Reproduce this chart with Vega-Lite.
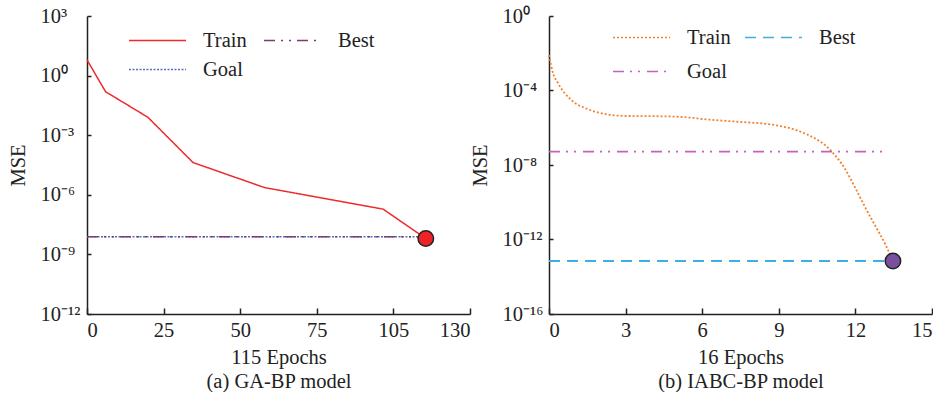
{
  "$schema": "https://vega.github.io/schema/vega-lite/v6.json",
  "padding": {"left": 8, "top": 6, "right": 0, "bottom": 0},
  "background": "white",
  "bounds": "flush",
  "spacing": 79,
  "datasets": {
    "ga": [
      {"series": "Train", "epoch": 0, "mse": 6.2},
      {"series": "Train", "epoch": 6.3, "mse": 0.155},
      {"series": "Train", "epoch": 20.7, "mse": 0.0079},
      {"series": "Train", "epoch": 36, "mse": 4.2e-5},
      {"series": "Train", "epoch": 60.3, "mse": 2.3e-6},
      {"series": "Train", "epoch": 100.5, "mse": 1.9e-7},
      {"series": "Train", "epoch": 115, "mse": 6.3e-9},
      {"series": "Goal", "epoch": 0, "mse": 7.8e-9},
      {"series": "Goal", "epoch": 115, "mse": 7.8e-9},
      {"series": "Best", "epoch": 0, "mse": 7.8e-9},
      {"series": "Best", "epoch": 115, "mse": 7.8e-9}
    ],
    "gaEnd": [{"epoch": 115, "mse": 6.3e-9}],
    "iabc": [
      {"series": "Train", "epoch": 0, "mse": 8.1e-3},
      {"series": "Train", "epoch": 0.16, "mse": 8.3e-4},
      {"series": "Train", "epoch": 0.35, "mse": 2.5e-4},
      {"series": "Train", "epoch": 0.87, "mse": 3.1e-5},
      {"series": "Train", "epoch": 1.53, "mse": 9.8e-6},
      {"series": "Train", "epoch": 2.18, "mse": 5.5e-6},
      {"series": "Train", "epoch": 2.96, "mse": 4.3e-6},
      {"series": "Train", "epoch": 4.0, "mse": 4.2e-6},
      {"series": "Train", "epoch": 5.05, "mse": 3.9e-6},
      {"series": "Train", "epoch": 6.3, "mse": 2.7e-6},
      {"series": "Train", "epoch": 7.4, "mse": 2.1e-6},
      {"series": "Train", "epoch": 8.84, "mse": 1.4e-6},
      {"series": "Train", "epoch": 9.75, "mse": 6.9e-7},
      {"series": "Train", "epoch": 10.41, "mse": 2.7e-7},
      {"series": "Train", "epoch": 10.8, "mse": 1.2e-7},
      {"series": "Train", "epoch": 11.19, "mse": 3.5e-8},
      {"series": "Train", "epoch": 11.58, "mse": 6.6e-9},
      {"series": "Train", "epoch": 11.97, "mse": 6.9e-10},
      {"series": "Train", "epoch": 12.37, "mse": 5.8e-11},
      {"series": "Train", "epoch": 12.76, "mse": 6.0e-12},
      {"series": "Train", "epoch": 13.15, "mse": 6.3e-13},
      {"series": "Train", "epoch": 13.47, "mse": 7.2e-14},
      {"series": "Goal", "epoch": 0, "mse": 5.2e-8},
      {"series": "Goal", "epoch": 13.2, "mse": 5.2e-8},
      {"series": "Best", "epoch": 0, "mse": 7.0e-14},
      {"series": "Best", "epoch": 13.47, "mse": 7.0e-14}
    ],
    "iabcEnd": [{"epoch": 13.47, "mse": 7.0e-14}]
  },
  "hconcat": [
    {
      "width": 383,
      "height": 298,
      "layer": [
        {
          "data": {"name": "ga"},
          "mark": {"type": "line", "strokeWidth": 1.5},
          "encoding": {
            "x": {
              "field": "epoch", "type": "quantitative",
              "scale": {"domain": [0, 130], "nice": false, "zero": false},
              "axis": {
                "values": [0, 26, 52, 78, 104, 130],
                "labelExpr": "datum.value == 26 ? '25' : datum.value == 52 ? '50' : datum.value == 78 ? '75' : datum.value == 104 ? '105' : datum.value == 130 ? '130' : '0'",
                "title": ["115 Epochs", "(a) GA-BP model"]
              }
            },
            "y": {
              "field": "mse", "type": "quantitative",
              "scale": {"type": "log", "domain": [1e-12, 1000], "nice": false},
              "axis": {
                "values": [1000, 1, 0.001, 1e-6, 1e-9, 1e-12],
                "labelExpr": "round(log(datum.value)/LN10) == 3 ? '10³' : round(log(datum.value)/LN10) == 0 ? '10⁰' : round(log(datum.value)/LN10) == -3 ? '10⁻³' : round(log(datum.value)/LN10) == -6 ? '10⁻⁶' : round(log(datum.value)/LN10) == -9 ? '10⁻⁹' : '10⁻¹²'",
                "title": "MSE"
              }
            },
            "color": {
              "field": "series", "type": "nominal",
              "scale": {"domain": ["Train", "Goal", "Best"], "range": ["#ee2b2b", "#5b6dc0", "#7d3c6b"]},
              "legend": {"orient": "none", "legendX": 60, "legendY": 14, "columns": 2}
            },
            "strokeDash": {
              "field": "series", "type": "nominal",
              "scale": {"domain": ["Train", "Goal", "Best"], "range": [[1, 0], [2, 1.5], [11, 6, 2, 6, 2, 6]]},
              "legend": {"orient": "none", "legendX": 60, "legendY": 14, "columns": 2}
            }
          }
        },
        {
          "data": {"name": "gaEnd"},
          "mark": {"type": "point", "filled": true, "fill": "#ee2326", "stroke": "#222222", "strokeWidth": 1.5, "size": 240, "opacity": 1},
          "encoding": {
            "x": {"field": "epoch", "type": "quantitative"},
            "y": {"field": "mse", "type": "quantitative"}
          }
        }
      ]
    },
    {
      "width": 383,
      "height": 298,
      "layer": [
        {
          "data": {"name": "iabc"},
          "mark": {"type": "line", "strokeWidth": 1.8, "interpolate": "monotone"},
          "encoding": {
            "x": {
              "field": "epoch", "type": "quantitative",
              "scale": {"domain": [0, 15], "nice": false, "zero": false},
              "axis": {
                "values": [0, 3, 6, 9, 12, 15],
                "title": ["16 Epochs", "(b) IABC-BP model"]
              }
            },
            "y": {
              "field": "mse", "type": "quantitative",
              "scale": {"type": "log", "domain": [1e-16, 1], "nice": false},
              "axis": {
                "values": [1, 1e-4, 1e-8, 1e-12, 1e-16],
                "labelExpr": "round(log(datum.value)/LN10) == 0 ? '10⁰' : round(log(datum.value)/LN10) == -4 ? '10⁻⁴' : round(log(datum.value)/LN10) == -8 ? '10⁻⁸' : round(log(datum.value)/LN10) == -12 ? '10⁻¹²' : '10⁻¹⁶'",
                "title": "MSE"
              }
            },
            "color": {
              "field": "series", "type": "nominal",
              "scale": {"domain": ["Train", "Goal", "Best"], "range": ["#f0822e", "#c660b8", "#3faee2"]},
              "legend": {"orient": "none", "legendX": 82, "legendY": 11, "columns": 2, "columnPadding": 11}
            },
            "strokeDash": {
              "field": "series", "type": "nominal",
              "scale": {"domain": ["Train", "Goal", "Best"], "range": [[2, 2], [11, 6, 2, 6, 2, 7], [11, 7]]},
              "legend": {"orient": "none", "legendX": 82, "legendY": 11, "columns": 2, "rowPadding": 13, "columnPadding": 11}
            }
          }
        },
        {
          "data": {"name": "iabcEnd"},
          "mark": {"type": "point", "filled": true, "fill": "#7a4f9e", "stroke": "#222222", "strokeWidth": 1.5, "size": 240, "opacity": 1},
          "encoding": {
            "x": {"field": "epoch", "type": "quantitative"},
            "y": {"field": "mse", "type": "quantitative"}
          }
        }
      ]
    }
  ],
  "resolve": {
    "scale": {"x": "independent", "y": "independent", "color": "independent", "strokeDash": "independent"},
    "axis": {"x": "independent", "y": "independent"},
    "legend": {"color": "independent", "strokeDash": "independent"}
  },
  "config": {
    "view": {"stroke": null},
    "font": "Liberation Serif",
    "axis": {
      "grid": false,
      "domainColor": "#222222",
      "domainWidth": 1.5,
      "tickColor": "#222222",
      "tickWidth": 1.5,
      "labelFont": "Liberation Serif",
      "labelFontSize": 20.5,
      "labelColor": "#222222",
      "titleFont": "Liberation Serif",
      "titleFontSize": 20.5,
      "titleFontWeight": "normal",
      "titleColor": "#222222"
    },
    "axisY": {"tickSize": -4, "labelPadding": 51, "labelAlign": "left", "titlePadding": 12},
    "axisX": {"tickSize": -6, "labelPadding": 12, "titlePadding": 7, "titleLineHeight": 24},
    "legend": {
      "title": null,
      "symbolType": "M-3,0H3",
      "symbolSize": 361,
      "symbolStrokeWidth": 1.5,
      "labelFont": "Liberation Serif",
      "labelFontSize": 20.5,
      "labelColor": "#222222",
      "labelOffset": 35,
      "columnPadding": 14,
      "rowPadding": 8
    }
  }
}
